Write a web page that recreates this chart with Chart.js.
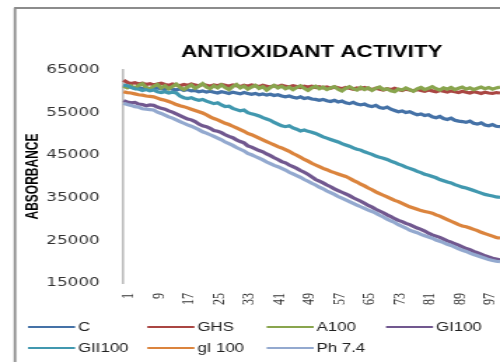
<!DOCTYPE html>
<html>
<head>
<meta charset="utf-8">
<script src="https://cdn.jsdelivr.net/npm/chart.js@4.4.1/dist/chart.umd.min.js"></script>
<style>
  html, body { margin: 0; padding: 0; background: #fff; overflow: hidden; }
</style>
</head>
<body>
<!-- the original picture is stretched sideways, so the canvas is drawn narrow and widened by its inline style -->
<canvas id="chart" width="357" height="362" style="display:block;width:500px;height:362px"></canvas>
<script>
// x categories: reading number 1..101
const readings = Array.from({ length: 101 }, (_, i) => String(i + 1));

const seriesNames = ["C", "GHS", "A100", "GI100", "GII100", "gI 100", "Ph 7.4"];
const seriesColors = ["#4572A7", "#AA4643", "#89A54E", "#71588F", "#4198AF", "#DB843D", "#93A9CF"];

const cValues = [
  61500, 61200, 61000, 60700, 60900, 60600, 60800, 60500, 60700, 60800,
  60600, 60400, 60700, 60500, 60300, 60600, 60200, 60400, 60100, 60200,
  59900, 60100, 59800, 60000, 59800, 59600, 59900, 59700, 59500, 59800,
  59600, 59400, 59700, 59500, 59300, 59500, 59200, 59400, 59100, 59300,
  59000, 59200, 58900, 58700, 58900, 58600, 58400, 58700, 58300, 58500,
  58200, 58100, 57900, 58100, 57800, 57600, 57900, 57500, 57700, 57300,
  57100, 57400, 57000, 56800, 57000, 56600, 56400, 56700, 56200, 56000,
  56300, 55800, 55500, 55200, 55400, 55000, 55200, 54800, 54500, 54700,
  54300, 54500, 54000, 53800, 54100, 53600, 53400, 53700, 53200, 53000,
  52900, 52700, 53000, 52500, 52300, 52600, 52100, 51900, 52200, 51800,
  51700
];
const ghsValues = [
  62600, 62100, 61800, 62000, 61700, 61900, 61600, 61800, 61500, 61700,
  61900, 61600, 61400, 61700, 61500, 61300, 61600, 61400, 61700, 61500,
  61300, 61600, 61400, 61200, 61500, 61300, 61600, 61400, 61200, 61500,
  61300, 61100, 61400, 61200, 61500, 61300, 61100, 61400, 61200, 61000,
  61300, 61100, 61400, 61200, 61000, 61300, 61100, 60900, 61200, 61000,
  61200, 60900, 61100, 60800, 61000, 60700, 61000, 60800, 60600, 60900,
  60700, 60500, 60800, 60600, 60900, 60600, 60400, 60700, 60500, 60300,
  60600, 60400, 60700, 60400, 60200, 60500, 60300, 60100, 60400, 60200,
  60000, 60300, 60100, 59900, 60200, 60000, 59800, 60100, 59900, 59700,
  60000, 59800, 59600, 59900, 59700, 59500, 59800, 59600, 59500, 59700,
  59600
];
const a100Values = [
  61200, 60800, 61300, 60700, 61400, 61800, 60900, 60500, 61200, 61600,
  60800, 61300, 60600, 61100, 61700, 60900, 60400, 61000, 61500, 60700,
  61200, 61800, 61000, 60600, 61300, 60800, 61500, 60900, 60400, 61100,
  61600, 60800, 61200, 60500, 61000, 61400, 60700, 61100, 60300, 60900,
  61400, 60800, 61200, 60600, 61000, 60400, 60900, 61300, 60700, 60200,
  60800, 61200, 60600, 61000, 60400, 60800, 61100, 60500, 60100, 60700,
  61100, 60600, 60300, 60900, 60400, 60800, 60200, 60700, 61000, 60400,
  60600, 60100, 59900, 60500, 60300, 60800, 60400, 60000, 60600, 60900,
  60400, 60700, 61100, 60600, 60300, 60800, 60500, 60900, 60400, 60700,
  61000, 60500, 60800, 60400, 60700, 61000, 60600, 60900, 60500, 60800,
  61000
];
const gi100Values = [
  57800, 57500, 57300, 57400, 57000, 56900, 56600, 56800, 56700, 56300,
  56000, 55800, 55400, 55100, 54700, 54300, 53900, 53500, 53300, 52900,
  52300, 51900, 51700, 51300, 50800, 50600, 50300, 49800, 49400, 49100,
  48600, 48200, 47900, 47200, 46900, 46500, 46100, 45800, 45300, 44900,
  44400, 44000, 43500, 43200, 42700, 42300, 41900, 41400, 41000, 40500,
  39900, 39300, 38900, 38500, 38000, 37600, 37100, 36700, 36300, 35900,
  35500, 35000, 34600, 34200, 33700, 33200, 32800, 32300, 31900, 31500,
  31000, 30600, 30100, 29700, 29400, 29000, 28700, 28300, 27900, 27600,
  27200, 26700, 26300, 26000, 25700, 25300, 24900, 24600, 24200, 23900,
  23500, 23100, 22800, 22400, 22100, 21800, 21400, 21100, 20800, 20600,
  20400
];
const gii100Values = [
  61500, 61300, 60900, 60600, 60500, 60200, 60400, 60100, 60300, 59900,
  59700, 59900, 59600, 59800, 59600, 58900, 58500, 58300, 58500, 58100,
  57900, 58100, 57700, 57400, 57100, 57300, 56800, 56400, 56500, 56000,
  55700, 55400, 55600, 55000, 54700, 54500, 54200, 53800, 53500, 53200,
  52700, 52300, 51900, 51700, 51900, 51400, 51100, 50700, 50900, 50600,
  50400, 50100, 49700, 49300, 49000, 48700, 48400, 48100, 47700, 47400,
  47100, 46700, 46400, 46200, 45800, 45500, 45200, 44800, 44500, 44300,
  44000, 43600, 43300, 42900, 42600, 42200, 41900, 41600, 41200, 40900,
  40500, 40300, 40000, 39700, 39300, 39000, 38700, 38500, 38100, 37800,
  37500, 37300, 37000, 36700, 36400, 36100, 35800, 35600, 35400, 35200,
  35100
];
const gI100Values = [
  59900, 59700, 59600, 59400, 59200, 59100, 58900, 58800, 58700, 58400,
  58100, 57900, 57600, 57300, 56900, 56600, 56400, 56100, 55800, 55500,
  55200, 54900, 54500, 54000, 53600, 53300, 52900, 52500, 52200, 51800,
  51400, 51000, 50600, 50100, 49800, 49400, 49000, 48600, 48200, 47800,
  47400, 47000, 46700, 46300, 45900, 45400, 45000, 44500, 44000, 43600,
  43100, 42700, 42300, 41900, 41600, 41200, 40900, 40600, 40300, 40000,
  39600, 39100, 38700, 38200, 37800, 37300, 36900, 36400, 36000, 35600,
  35200, 34800, 34400, 34100, 33700, 33300, 32900, 32600, 32300, 32000,
  31800, 31600, 31400, 31000, 30700, 30300, 29900, 29500, 29100, 28700,
  28400, 28200, 27900, 27600, 27300, 26900, 26600, 26300, 26000, 25700,
  25500
];
const ph74Values = [
  57200, 56900, 56700, 56400, 56300, 55900, 55800, 55700, 55600, 55100,
  54800, 54400, 54000, 53700, 53300, 52900, 52500, 52100, 51800, 51400,
  51000, 50500, 50200, 49800, 49400, 49000, 48600, 48100, 47700, 47300,
  46800, 46400, 46000, 45400, 45100, 44700, 44300, 43900, 43400, 43000,
  42600, 42300, 41900, 41500, 41000, 40600, 40200, 39800, 39300, 38900,
  38400, 38000, 37500, 37100, 36600, 36200, 35800, 35300, 34900, 34500,
  34100, 33700, 33300, 32900, 32500, 32100, 31800, 31400, 30900, 30500,
  30000, 29600, 29200, 28700, 28300, 27900, 27400, 27100, 26800, 26400,
  26100, 25800, 25500, 25100, 24800, 24500, 24100, 23800, 23400, 23000,
  22700, 22400, 22000, 21700, 21400, 21100, 20800, 20500, 20300, 20100,
  20000
];

const allSeries = [cValues, ghsValues, a100Values, gi100Values, gii100Values, gI100Values, ph74Values];

// y axis ticks
const yMin = 15000;
const yMax = 65000;
const yStep = 10000;

// excel draws the later series on top, chart.js the other way round -> use order
const datasets = allSeries.map((vals, i) => ({
  label: seriesNames[i],
  data: vals,
  borderColor: seriesColors[i],
  backgroundColor: seriesColors[i],
  borderWidth: 3.2,
  pointRadius: 0,
  tension: 0,
  order: 10 - i
}));

// frame round the picture (only left and top edges are visible)
const framePlugin = {
  id: "frame",
  beforeDraw(chart) {
    const ctx = chart.ctx;
    ctx.save();
    ctx.fillStyle = "#fff";
    ctx.fillRect(0, 0, chart.width, chart.height);
    ctx.strokeStyle = "#8c8c8c";
    ctx.lineWidth = 1.8;
    ctx.beginPath();
    ctx.moveTo(10.7, 362);
    ctx.lineTo(10.7, 8);
    ctx.stroke();
    ctx.lineWidth = 2;
    ctx.beginPath();
    ctx.moveTo(10, 8);
    ctx.lineTo(chart.width, 8);
    ctx.stroke();
    ctx.restore();
  }
};

// legend in a fixed 4 column grid, like the excel one
const gridLegend = {
  id: "gridLegend",
  afterDraw(chart) {
    const ctx = chart.ctx;
    ctx.save();
    ctx.font = "12px 'Liberation Sans', Arial, sans-serif";
    ctx.textBaseline = "middle";
    ctx.textAlign = "left";
    chart.data.datasets.forEach((ds, i) => {
      const col = i % 4;
      const row = Math.floor(i / 4);
      const x = 20 + col * 85.2;
      const y = 327 + row * 21;
      ctx.strokeStyle = ds.borderColor;
      ctx.lineWidth = 2;
      ctx.beginPath();
      ctx.moveTo(x, y);
      ctx.lineTo(x + 33.6, y);
      ctx.stroke();
      ctx.fillStyle = "#222";
      ctx.fillText(ds.label, x + 35.7, y + 0.5);
    });
    ctx.restore();
  }
};

const ctx = document.getElementById("chart").getContext("2d");
const myChart = new Chart(ctx, {
  type: "line",
  data: { labels: readings, datasets: datasets },
  options: {
    responsive: false,
    animation: false,
    layout: { padding: { left: 0, right: 0, top: 0, bottom: 49 } },
    plugins: {
      legend: { display: false },
      tooltip: { enabled: false },
      title: {
        display: true,
        text: "ANTIOXIDANT ACTIVITY",
        fullSize: false,
        color: "#000",
        font: { family: "'Liberation Sans', Arial, sans-serif", size: 16, weight: "bold" },
        padding: { top: 43, bottom: 7.8 }
      }
    },
    scales: {
      x: {
        type: "category",
        offset: false,
        grid: { display: false, drawTicks: false },
        border: { display: false },
        ticks: {
          autoSkip: false,
          minRotation: 90,
          maxRotation: 90,
          padding: 10,
          labelOffset: 4,
          color: "#333",
          font: { family: "'Liberation Serif', serif", size: 12 },
          callback: function (val, i) {
            return i % 8 === 0 ? this.getLabelForValue(val) : "";
          }
        },
        afterFit(scale) {
          scale.height = 30;
          scale.paddingLeft = 0;
          scale.paddingRight = 0;
        }
      },
      y: {
        min: yMin,
        max: yMax,
        grid: { display: false, drawTicks: false },
        border: { display: true, color: "#bdbdbd", width: 1.6 },
        title: {
          display: true,
          text: "ABSORBANCE",
          color: "#000",
          font: { family: "'Liberation Sans', Arial, sans-serif", size: 12, weight: "bold" },
          padding: { top: 16.4, bottom: 0 }
        },
        ticks: {
          stepSize: yStep,
          padding: 17,
          color: "#333",
          font: { family: "'DejaVu Sans', sans-serif", size: 12 },
          callback: (v) => String(v)
        },
        afterFit(scale) {
          scale.width = 88.2;
          scale.paddingTop = 0;
          scale.paddingBottom = 0;
        }
      }
    }
  },
  plugins: [framePlugin, gridLegend]
});
</script>
</body>
</html>
